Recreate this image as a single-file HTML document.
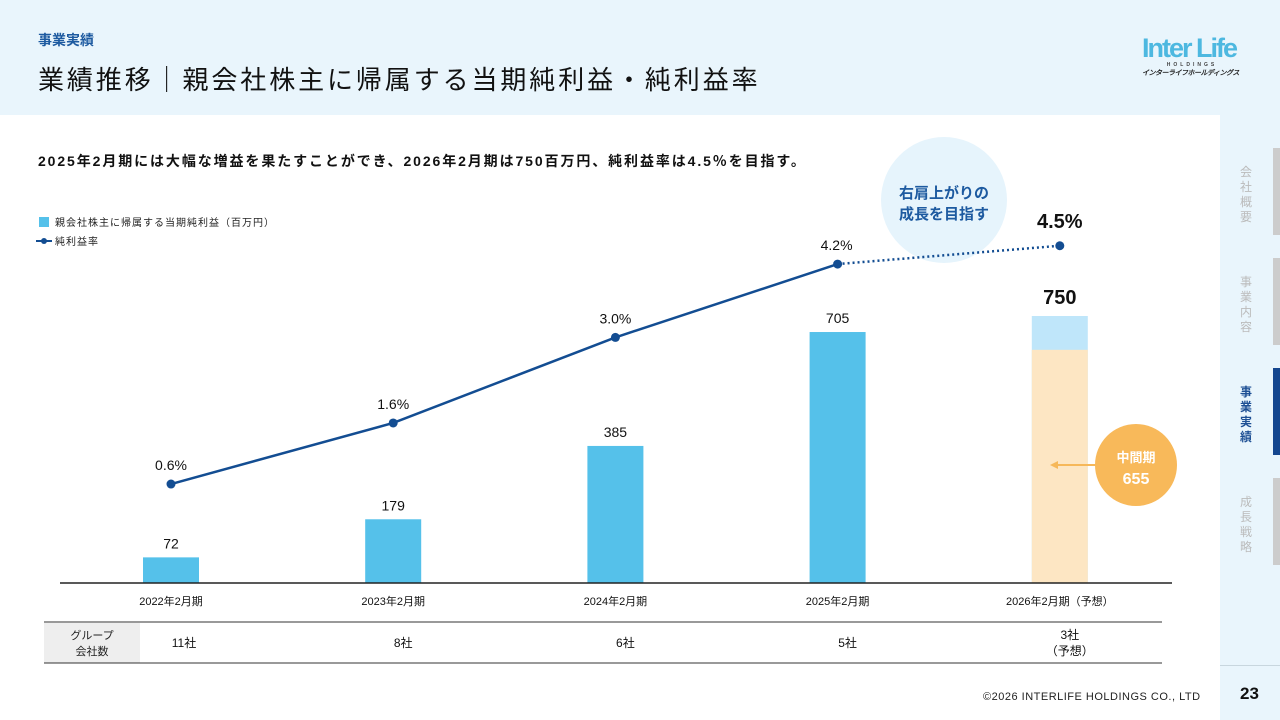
<!DOCTYPE html>
<html><head><meta charset="utf-8">
<style>
body{margin:0;width:1280px;height:720px;overflow:hidden;background:#e9f5fc;font-family:"Liberation Sans","Noto Sans CJK JP",sans-serif;position:relative}
.abs{position:absolute}
</style></head><body>
<div class="abs" style="left:38px;top:30px;font-size:14px;color:#1d5aa0;font-weight:bold">事業実績</div>
<div class="abs" style="left:38px;top:60px;font-size:26px;color:#111;letter-spacing:2.9px">業績推移｜親会社株主に帰属する当期純利益・純利益率</div>
<div class="abs" style="left:1142px;top:34px;width:100px;color:#4db8e0;font-weight:bold;font-size:27px;letter-spacing:-2px;line-height:28px;font-family:'Liberation Sans Narrow','Liberation Sans',sans-serif;white-space:nowrap">Inter Life<div style="font-size:5px;letter-spacing:3px;color:#444;line-height:7px;text-align:center">HOLDINGS</div><div style="font-size:7px;letter-spacing:-0.5px;color:#222;line-height:10px;font-style:italic">インターライフホールディングス</div></div>
<div class="abs" style="left:0;top:115px;width:1220px;height:605px;background:#fff"></div>
<div class="abs" style="left:1220px;top:665px;width:60px;height:1px;background:#c8d6de"></div>
<div class="abs" style="left:1240px;top:165px;width:16px;font-size:12px;color:#bbb;line-height:15px">会社概要</div>
<div class="abs" style="left:1273px;top:148px;width:7px;height:87px;background:#ccc"></div>
<div class="abs" style="left:1240px;top:275px;width:16px;font-size:12px;color:#bbb;line-height:15px">事業内容</div>
<div class="abs" style="left:1273px;top:258px;width:7px;height:87px;background:#ccc"></div>
<div class="abs" style="left:1240px;top:385px;width:16px;font-size:12px;color:#1d4f94;font-weight:bold;line-height:15px">事業実績</div>
<div class="abs" style="left:1273px;top:368px;width:7px;height:87px;background:#14468f"></div>
<div class="abs" style="left:1240px;top:495px;width:16px;font-size:12px;color:#bbb;line-height:15px">成長戦略</div>
<div class="abs" style="left:1273px;top:478px;width:7px;height:87px;background:#ccc"></div>
<div class="abs" style="left:1240px;top:684px;font-size:17px;font-weight:bold;color:#111">23</div>
<div class="abs" style="left:983px;top:691px;font-size:11px;color:#222;letter-spacing:.5px">©2026 INTERLIFE HOLDINGS CO., LTD</div>
<div class="abs" style="left:38px;top:151px;font-size:14px;font-weight:bold;color:#111;letter-spacing:1.9px;white-space:nowrap">2025年2月期には大幅な増益を果たすことができ、2026年2月期は750百万円、純利益率は4.5％を目指す。</div>

<svg class="abs" style="left:0;top:0" width="1220" height="720" id="chart">
<circle cx="944" cy="200" r="63" fill="#e6f4fc"/>
<text x="944" y="198" font-size="15" fill="#1d5aa0" text-anchor="middle" font-weight="bold">右肩上がりの</text>
<text x="944" y="219" font-size="15" fill="#1d5aa0" text-anchor="middle" font-weight="bold">成長を目指す</text>
<rect x="39" y="217" width="10" height="10" fill="#55c1ea"/>
<text x="55" y="226" font-size="10" fill="#222" letter-spacing="1">親会社株主に帰属する当期純利益（百万円）</text>
<line x1="36" y1="241" x2="52" y2="241" stroke="#134d92" stroke-width="2"/>
<circle cx="44" cy="241" r="3" fill="#134d92"/>
<text x="55" y="245" font-size="10" fill="#222" letter-spacing="1">純利益率</text>
<g id="g"></g>
<line x1="60" y1="583" x2="1172" y2="583" stroke="#222" stroke-width="1.5"/>
<line x1="44" y1="622" x2="1162" y2="622" stroke="#333"/>
<rect x="44" y="623" width="96" height="40" fill="#eee"/>
<text x="92" y="639" font-size="11" fill="#222" text-anchor="middle">グループ</text>
<text x="92" y="655" font-size="11" fill="#222" text-anchor="middle">会社数</text>
<line x1="44" y1="663" x2="1162" y2="663" stroke="#333"/>
<g id="arrow">
<line x1="1056" y1="465" x2="1110" y2="465" stroke="#f6b85a" stroke-width="2"/>
<polygon points="1050,465 1058,461 1058,469" fill="#f6b85a"/>
<circle cx="1136" cy="465" r="41" fill="#f8b95a"/>
<text x="1136" y="462" font-size="13" fill="#fff" text-anchor="middle" font-weight="bold">中間期</text>
<text x="1136" y="484" font-size="16" fill="#fff" text-anchor="middle" font-weight="bold">655</text>
</g>
</svg>
<script>
const categories=["2022年2月期","2023年2月期","2024年2月期","2025年2月期","2026年2月期（予想）"];
const profit=[72,179,385,705,750];
const interim=655;
const margin=[0.6,1.6,3.0,4.2,4.5];
const companies=["11社","8社","6社","5社","3社"];
const ns="http://www.w3.org/2000/svg";
const g=document.getElementById('g');
const xs=i=>171+i*222.2;
const yb=v=>583-v*0.356;
const yl=v=>520.7-v*61.1;
function mk(t,a,p){const e=document.createElementNS(ns,t);for(const k in a)e.setAttribute(k,a[k]);(p||g).appendChild(e);return e;}
profit.forEach((v,i)=>{
 const last=i===profit.length-1;
 let r=mk('rect',{x:xs(i)-28,y:yb(v),width:56,height:583-yb(v),fill:last?'#bfe6fa':'#55c1ea'});
 
 
 if(last){let r2=mk('rect',{x:xs(i)-28,y:yb(interim),width:56,height:583-yb(interim),fill:'#fde6c3'});
  
  }
 let t=mk('text',{x:xs(i),y:yb(v)-(last?12:9),'font-size':last?20:14,'font-weight':last?'bold':'normal','text-anchor':'middle',fill:'#111'});
 t.textContent=v;
 
 
 let c=mk('text',{x:xs(i),y:605,'font-size':11,'text-anchor':'middle',fill:'#111'});
 c.textContent=categories[i];
 
 
});
companies.forEach((s,i)=>{
 const x=i==0?184:xs(i)+10;
 let t=mk('text',{x:x,y:i==4?639:647,'font-size':12,'text-anchor':'middle',fill:'#111'});
 t.textContent=s;
 
 
 if(i==4){let t2=mk('text',{x:x,y:655,'font-size':12,'text-anchor':'middle',fill:'#111'});t2.textContent='（予想）';
  
  }
});
let d=margin.slice(0,4).map((v,i)=>(i?'L':'M')+xs(i)+','+yl(v)).join('');
let p=mk('path',{d:d,stroke:'#134d92','stroke-width':2.5,fill:'none'});


let dl=mk('line',{x1:xs(3),y1:yl(margin[3]),x2:xs(4),y2:yl(margin[4]),stroke:'#134d92','stroke-width':2.5,'stroke-dasharray':'2,3'});


margin.forEach((v,i)=>{
 const last=i==4;
 let c=mk('circle',{cx:xs(i),cy:yl(v),r:4.5,fill:'#134d92'});
 
 
 let t=mk('text',{x:xs(i)-(i==3?1:0),y:yl(v)-(last?18:14),'font-size':last?20:14,'font-weight':last?'bold':'normal','text-anchor':'middle',fill:'#111'});
 t.textContent=v.toFixed(1)+'%';
 
 
});
</script>
</body></html>
